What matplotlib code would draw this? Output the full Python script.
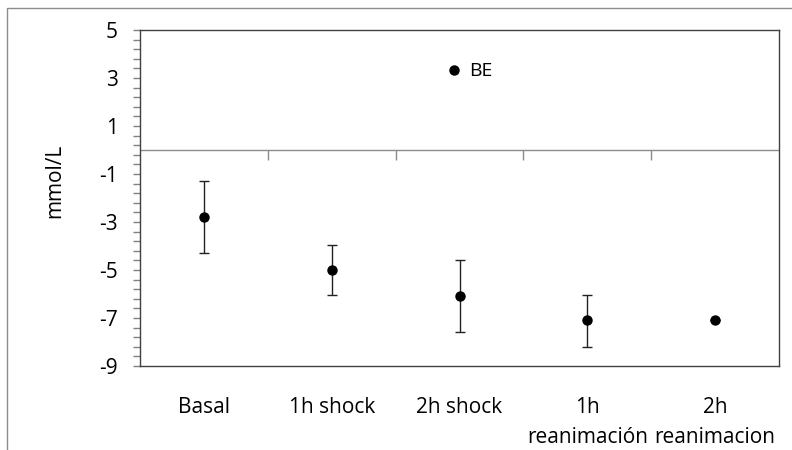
import numpy as np
import matplotlib
matplotlib.use("Agg")
import matplotlib.pyplot as plt
from matplotlib.ticker import FixedLocator
from matplotlib.patches import Rectangle
from matplotlib.lines import Line2D

categories = ["Basal", "1h shock", "2h shock", "1h\nreanimación", "2h\nreanimacion"]
be_mean = [-2.78, -5.0, -6.07, -7.1, -7.1]
be_err_up = [1.5, 1.03, 1.5, 1.05, 0.0]
be_err_down = [1.52, 1.04, 1.53, 1.1, 0.0]
series_name = "BE"
y_label = "mmol/L"
y_ticks = [-9, -7, -5, -3, -1, 1, 3, 5]

plt.rcParams['font.family'] = ['Open Sans', 'DejaVu Sans']

W, H = 792, 450
fig = plt.figure(figsize=(W / 100, H / 100), dpi=100)
fig.patch.set_facecolor("white")

# outer chart frame
fig.patches.append(Rectangle((7 / W, -0.1), 1.2, 1 - 8 / H + 0.1, transform=fig.transFigure,
                             fill=False, edgecolor="#8c8c8c", linewidth=1.0))

left, right, top, bottom = 140, 779, 30, 366
ax = fig.add_axes([left / W, 1 - bottom / H, (right - left) / W, (bottom - top) / H])

x = np.arange(len(categories))
ax.errorbar(x, be_mean, yerr=[be_err_down, be_err_up], fmt="o", color="black",
            ecolor="#222222", elinewidth=1.0, capsize=3.5, capthick=1.0,
            markersize=6.5)

ax.set_xlim(-0.5, len(categories) - 0.5)
ax.set_ylim(-9, 5)
ax.set_yticks(y_ticks)
ax.set_yticklabels([str(t) for t in y_ticks])
ax.yaxis.set_minor_locator(FixedLocator(np.linspace(-9, 5, 36)))
ax.tick_params(axis="y", which="major", length=5, width=1, color="#808080", labelsize=15, pad=11)
ax.tick_params(axis="y", which="minor", length=5, width=1, color="#808080")

ax.set_xticks(x)
ax.set_xticklabels(categories, fontsize=15, linespacing=1.6, va="top")
ax.tick_params(axis="x", which="major", length=0, pad=22)

for s in ax.spines.values():
    s.set_color("#404040")
    s.set_linewidth(1.0)

ax.axhline(0, color="#8c8c8c", linewidth=1.0, zorder=1)
sec = ax.secondary_xaxis(0.0 - (-9) / 14)
sec.set_xticks(np.arange(0.5, len(categories) - 0.5, 1.0))
sec.set_xticklabels([])
sec.tick_params(axis="x", length=7, width=1, color="#8c8c8c", direction="in")
for s in sec.spines.values():
    s.set_visible(False)

ax.set_ylabel(y_label, fontsize=15)
ax.yaxis.set_label_coords((65 - left) / (right - left), (bottom - 181) / (bottom - top))

handle = Line2D([], [], linestyle="none", marker="o", color="black", markersize=6.5)
ax.legend([handle], [series_name], loc="center left", bbox_to_anchor=(0.482, 0.877),
          frameon=False, fontsize=14, handlelength=0.6, handletextpad=0.5,
          borderpad=0, borderaxespad=0)

fig.savefig("out.png", dpi=100)
